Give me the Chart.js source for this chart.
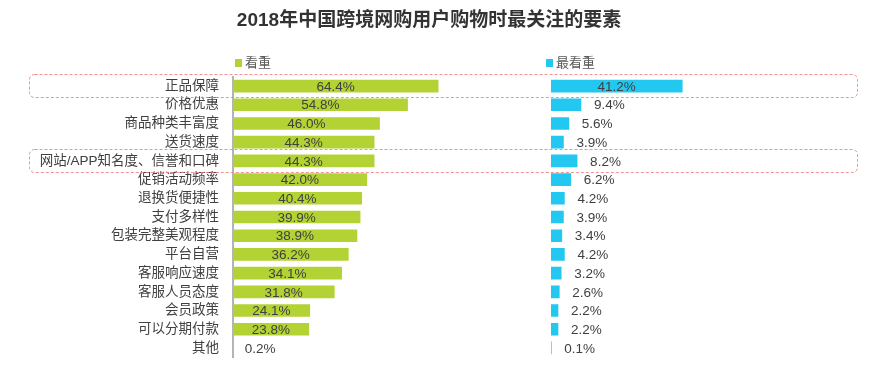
<!DOCTYPE html>
<html>
<head>
<meta charset="utf-8">
<script src="https://cdn.jsdelivr.net/npm/chart.js@4.4.0/dist/chart.umd.min.js"></script>
<style>
html,body{margin:0;padding:0;background:#fff;}
#wrap{position:relative;width:884px;height:376px;overflow:hidden;font-family:"Liberation Sans","Noto Sans CJK SC",sans-serif;}
canvas{position:absolute;left:0;top:0;}
#title{position:absolute;left:0;width:858px;top:8px;text-align:center;font-size:19px;font-weight:bold;color:#333;line-height:24px;white-space:nowrap;}
.sq{position:absolute;top:59px;width:7px;height:8px;}
.lt{position:absolute;top:55px;font-size:13px;line-height:16px;color:#595959;white-space:nowrap;}
</style>
</head>
<body>
<div id="wrap">
  <canvas id="left" width="884" height="376" style="width:884px;height:376px"></canvas>
  <canvas id="right" width="884" height="376" style="width:884px;height:376px"></canvas>
  <div id="title">2018年中国跨境网购用户购物时最关注的要素</div>
  <div class="sq" style="left:235px;background:#b3d334"></div>
  <div class="lt" style="left:245px">看重</div>
  <div class="sq" style="left:546px;background:#22c8f0"></div>
  <div class="lt" style="left:556px">最看重</div>
</div>
<script>
const categories = ['正品保障','价格优惠','商品种类丰富度','送货速度','网站/APP知名度、信誉和口碑','促销活动频率','退换货便捷性','支付多样性','包装完整美观程度','平台自营','客服响应速度','客服人员态度','会员政策','可以分期付款','其他'];
const kanZhong = [64.4,54.8,46.0,44.3,44.3,42.0,40.4,39.9,38.9,36.2,34.1,31.8,24.1,23.8,0.2];
const zuiKanZhong = [41.2,9.4,5.6,3.9,8.2,6.2,4.2,3.9,3.4,4.2,3.2,2.6,2.2,2.2,0.1];
const highlighted = ['正品保障','网站/APP知名度、信誉和口碑'];

const FONT = '"Liberation Sans","Noto Sans CJK SC",sans-serif';
const ROW_TOP = 76.7, ROW_BOTTOM = 357.3, W = 884, H = 376;

const valueLabels = {
  id: 'valueLabels',
  afterDatasetsDraw(chart, args, opts) {
    const ctx = chart.ctx;
    const meta = chart.getDatasetMeta(0);
    const data = chart.data.datasets[0].data;
    ctx.save();
    ctx.font = '13.5px ' + FONT;
    ctx.fillStyle = '#404040';
    ctx.textBaseline = 'middle';
    meta.data.forEach((bar, i) => {
      const w = bar.x - bar.base;
      const txt = data[i].toFixed(1) + '%';
      if (w > 60) {
        ctx.textAlign = 'center';
        ctx.fillText(txt, (bar.x + bar.base) / 2, bar.y + 1);
      } else {
        ctx.textAlign = 'left';
        ctx.fillText(txt, bar.x + opts.offset, bar.y + 1);
      }
    });
    ctx.restore();
  }
};

const highlightBoxes = {
  id: 'highlightBoxes',
  afterDraw(chart) {
    const ctx = chart.ctx;
    const y = chart.scales.y;
    ctx.save();
    ctx.strokeStyle = 'rgba(238,128,128,0.85)';
    ctx.lineWidth = 1;
    ctx.setLineDash([3, 2]);
    highlighted.forEach(name => {
      const idx = categories.indexOf(name);
      const yc = y.getPixelForValue(idx);
      ctx.beginPath();
      ctx.roundRect(29.5, Math.round(yc - 12) + 0.5, 828, 23, 5);
      ctx.stroke();
    });
    ctx.restore();
  }
};

function makeChart(id, values, color, padLeft, padRight, showAxis, offset, extraPlugins) {
  return new Chart(document.getElementById(id), {
    type: 'bar',
    data: {
      labels: categories,
      datasets: [{ data: values, backgroundColor: color, barThickness: 12, borderWidth: 0 }]
    },
    options: {
      indexAxis: 'y',
      responsive: false,
      animation: false,
      layout: { padding: { top: ROW_TOP, bottom: H - ROW_BOTTOM, left: padLeft, right: padRight } },
      plugins: { legend: { display: false }, tooltip: { enabled: false }, valueLabels: { offset: offset } },
      scales: {
        x: { display: false, min: 0, max: 70 },
        y: showAxis ? {
          grid: { display: false },
          border: { display: true, color: '#b4b4b4', width: 2 },
          ticks: { autoSkip: false, padding: 6, color: '#404040', font: { size: 13.5, family: FONT } },
          afterFit(s) { s.width = 233; }
        } : { display: false }
      }
    },
    plugins: [valueLabels].concat(extraPlugins)
  });
}

makeChart('left', kanZhong, '#b3d334', 0, W - 456, true, 11, [highlightBoxes]);
makeChart('right', zuiKanZhong, '#22c8f0', 551, W - 774, false, 13, []);
</script>
</body>
</html>
